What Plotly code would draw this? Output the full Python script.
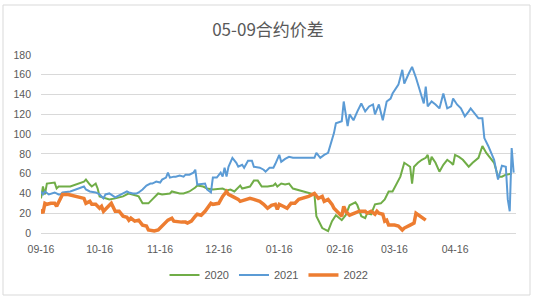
import plotly.graph_objects as go

# ---- data (month-day, value) ----
dates_2020 = ["09-16","09-17","09-18","09-19","09-23","09-24","09-25","10-01","10-08","10-09",
              "10-11","10-12","10-14","10-15","10-16","10-19","10-21","10-24","10-28","10-31",
              "11-04","11-05","11-07","11-10","11-12","11-15","11-17","11-21","11-22","11-26",
              "11-28","12-01","12-04","12-05","12-08","12-10","12-13","12-18","12-20","12-22",
              "12-24","12-27","12-28","01-01","01-03","01-05","01-07","01-10","01-13","01-14",
              "01-15","01-17","01-19","01-21","01-23","02-03","02-04","02-06","02-07","02-10",
              "02-12","02-14","02-17","02-19","02-21","02-24","02-25","02-27","03-01","03-02",
              "03-04","03-06","03-09","03-11","03-13","03-15","03-17","03-19","03-21","03-24",
              "03-25","03-26","03-28","03-30","04-01","04-02","04-03","04-04","04-06","04-08",
              "04-10","04-12","04-14","04-15","04-16","04-18","04-20","04-23","04-25","04-28",
              "04-30","05-02","05-04","05-06","05-08","05-10","05-12","05-15"]
vals_2020 = [35,47,39,50,51,45,47,47,52,54,
             49,47,50,45,37,35,34,35,37,40,
             37,37,30,30,34,40,39,40,42,40,
             40,42,46,48,47,45,44,45,43,44,
             42,48,45,47,53,53,47,47,48,50,
             47,50,49,50,45,39,17,8,5,2,
             12,18,13,18,28,31,28,17,15,20,
             19,29,30,34,42,42,50,57,71,67,
             50,67,71,74,76,79,69,77,71,62,
             69,74,71,69,79,77,74,67,71,76,
             88,81,76,71,57,57,59,60]

dates_2021 = ["09-16","09-17","09-18","09-19","09-20","09-23","09-25","09-26","09-27","10-01",
              "10-04","10-08","10-09","10-11","10-14","10-16","10-18","10-19","10-21","10-23",
              "10-24","10-28","10-30","10-31","11-02","11-04","11-05","11-07","11-09","11-11",
              "11-12","11-14","11-16","11-17","11-19","11-20","11-21","11-23","11-24","11-26",
              "11-28","11-29","12-01","12-03","12-04","12-05","12-09","12-10","12-12","12-13",
              "12-15","12-17","12-18","12-19","12-20","12-21","12-23","12-25","12-26","12-28",
              "12-29","12-31","01-02","01-03","01-06","01-08","01-09","01-11","01-13","01-14",
              "01-16","01-17","01-19","01-21","01-23","02-03","02-04","02-06","02-08","02-10",
              "02-13","02-14","02-17","02-18","02-20","02-21","02-23","02-25","02-27","03-01",
              "03-03","03-05","03-06","03-08","03-10","03-12","03-14","03-15","03-18","03-20",
              "03-21","03-23","03-25","03-27","03-29","03-31","04-01","04-02","04-04","04-06",
              "04-08","04-10","04-12","04-14","04-15","04-17","04-19","04-21","04-23","04-24",
              "04-26","04-28","04-30","05-01","05-03","05-06","05-08","05-10","05-12","05-13",
              "05-14","05-15","05-16"]
vals_2021 = [42,39,42,40,39,41,39,39,41,42,
             44,47,44,42,41,39,35,39,40,37,
             36,40,42,41,40,40,41,44,48,50,
             50,52,51,54,56,61,56,57,57,58,
             57,59,59,61,64,49,50,44,41,56,
             56,61,57,66,57,67,76,71,67,69,
             66,73,73,67,66,64,62,66,66,70,
             79,72,75,77,76,76,81,76,79,81,
             101,111,113,133,108,120,114,123,131,123,
             128,130,120,130,114,133,136,141,150,165,
             151,160,168,157,145,131,148,128,133,130,
             126,141,126,128,136,130,126,118,123,126,
             121,116,116,96,88,74,54,68,67,34,
             22,86,61]

dates_2022 = ["09-16","09-17","09-18","09-19","09-21","09-23","09-24","09-26","09-27","09-30",
              "10-04","10-07","10-08","10-09","10-11","10-12","10-14","10-16","10-17","10-18",
              "10-19","10-21","10-22","10-24","10-26","10-28","10-30","10-31","11-01","11-03",
              "11-05","11-07","11-09","11-10","11-13","11-15","11-16","11-18","11-20","11-22",
              "11-23","11-27","11-29","11-30","12-02","12-04","12-05","12-07","12-09","12-12",
              "12-13","12-16","12-17","12-18","12-20","12-21","12-23","12-26","12-27","12-30",
              "01-01","01-03","01-06","01-08","01-10","01-12","01-14","01-15","01-16","01-18",
              "01-20","01-22","01-24","01-26","01-31","02-03","02-05","02-07","02-08","02-10",
              "02-12","02-13","02-16","02-17","02-18","02-19","02-21","02-24","02-26","03-01",
              "03-02","03-04","03-06","03-07","03-08","03-10","03-11","03-12","03-13","03-16",
              "03-18","03-20","03-21","03-24","03-26","03-27","03-29","03-31","04-01"]
vals_2022 = [24,20,30,29,30,30,27,34,39,39,
             37,35,35,30,32,29,29,25,27,22,
             24,27,30,22,22,17,16,13,15,12,
             13,8,7,3,2,3,5,8,13,15,
             12,11,11,10,12,17,19,18,22,30,
             29,30,34,37,42,39,37,34,32,34,
             35,34,32,29,25,28,29,24,29,27,
             25,30,30,34,37,40,35,37,32,34,
             29,25,18,17,27,22,18,20,22,22,
             20,22,19,22,20,19,12,13,8,8,
             7,3,5,8,10,20,17,15,13]

series_names = ["2020", "2021", "2022"]
series_colors = ["#70AD47", "#5B9BD5", "#ED7D31"]
series_widths = [2, 2, 3.5]
title_text = "05-09合约价差"
tick_months = ["09-16", "10-16", "11-16", "12-16", "01-16", "02-16", "03-16", "04-16"]


def to_date(md):
    m = int(md[:2])
    year = 2021 if m >= 9 else 2022
    return f"{year}-{md}"


fig = go.Figure()
for name, dts, vals, col, w in zip(series_names,
                                   [dates_2020, dates_2021, dates_2022],
                                   [vals_2020, vals_2021, vals_2022],
                                   series_colors, series_widths):
    fig.add_trace(go.Scatter(x=[to_date(d) for d in dts], y=vals, mode="lines", name=name,
                             line=dict(color=col, width=w)))

font_lat = "Liberation Sans, Arial, sans-serif"
txt_col = "#595959"
grid_col = "#D9D9D9"

fig.update_layout(
    width=536, height=298,
    margin=dict(l=41, r=20, t=55, b=65, autoexpand=False),
    paper_bgcolor="white", plot_bgcolor="white",
    title=dict(text=title_text, x=0.5, xanchor="center", y=1 - 30 / 298, yanchor="middle",
               font=dict(family="Noto Sans CJK SC", size=17, color=txt_col)),
    showlegend=True,
    legend=dict(orientation="h", x=(269 - 41) / 475, xanchor="center",
                y=(233 - 275) / 178, yanchor="middle",
                font=dict(family=font_lat, size=11, color=txt_col)),
    xaxis=dict(type="date", range=["2021-09-16", "2022-05-17 05:00"],
               tickvals=[to_date(t) for t in tick_months], ticktext=tick_months,
               showgrid=False, showline=True, linecolor=grid_col, linewidth=1,
               ticks="", ticklabelstandoff=6, tickangle=0, automargin=False,
               tickfont=dict(family=font_lat, size=10.5, color=txt_col)),
    yaxis=dict(range=[0, 180], dtick=20, showgrid=True, gridcolor=grid_col, gridwidth=1,
               zeroline=False, showline=False, ticks="", ticklabelstandoff=9, automargin=False,
               tickfont=dict(family=font_lat, size=10.5, color=txt_col)),
    shapes=[dict(type="rect", xref="paper", yref="paper",
                 x0=(3 - 41) / 475, x1=(530 - 41) / 475,
                 y0=(233 - 295) / 178, y1=(233 - 5) / 178,
                 line=dict(color=grid_col, width=1), fillcolor="rgba(0,0,0,0)", layer="below")],
)

fig.write_html("out.html")
